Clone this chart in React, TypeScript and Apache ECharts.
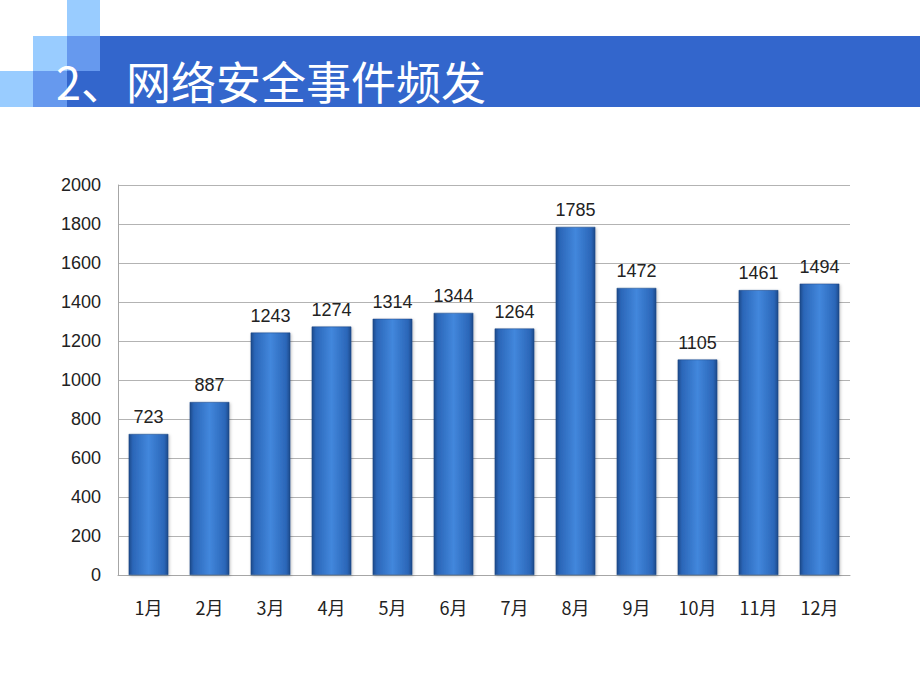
import React, { useEffect, useRef } from "react";
import * as echarts from "echarts";

const titleText = "2、网络安全事件频发";
const months = ["1月", "2月", "3月", "4月", "5月", "6月", "7月", "8月", "9月", "10月", "11月", "12月"];
const incidents = [723, 887, 1243, 1274, 1314, 1344, 1264, 1785, 1472, 1105, 1461, 1494];
const yTicks = { min: 0, max: 2000, interval: 200 };

export default function App() {
  const ref = useRef<HTMLDivElement>(null);
  useEffect(() => {
    if (!ref.current) return;
    const chart = echarts.init(ref.current, undefined, { renderer: "svg" });
    const barGrad = new echarts.graphic.LinearGradient(0, 0, 1, 0, [
      { offset: 0, color: "#1b4a8a" },
      { offset: 0.1, color: "#2b66b8" },
      { offset: 0.5, color: "#4287dc" },
      { offset: 0.9, color: "#2b66b8" },
      { offset: 1, color: "#1b4a8a" },
    ]);
    const numFont = "'Liberation Sans', 'Noto Sans CJK SC', sans-serif";
    chart.setOption({
      animation: false,
      backgroundColor: "#ffffff",
      graphic: [
        { type: "rect", shape: { x: 33, y: 36, width: 887, height: 71 }, style: { fill: "#3366cc" } },
        { type: "rect", shape: { x: 67, y: 0, width: 33, height: 36 }, style: { fill: "#99ccff" } },
        { type: "rect", shape: { x: 33, y: 36, width: 34, height: 35 }, style: { fill: "#99ccff" } },
        { type: "rect", shape: { x: 67, y: 36, width: 33, height: 35 }, style: { fill: "#6699ee" } },
        { type: "rect", shape: { x: 0, y: 71, width: 33, height: 36 }, style: { fill: "#99ccff" } },
        { type: "rect", shape: { x: 33, y: 71, width: 34, height: 36 }, style: { fill: "#6699ee" } },
        {
          type: "text",
          left: 56,
          top: 58,
          style: {
            text: titleText,
            fill: "#ffffff",
            font: "normal 45px 'Noto Sans CJK SC', sans-serif",
          },
        },
      ],
      grid: { left: 118, right: 70, top: 185, bottom: 115, containLabel: false },
      xAxis: {
        type: "category",
        data: months,
        axisLine: { show: true, lineStyle: { color: "#a6a6a6", width: 1 } },
        axisTick: { show: false },
        axisLabel: {
          margin: 23,
          fontSize: 18,
          color: "#222",
          fontFamily: "'Noto Sans CJK SC', sans-serif",
        },
      },
      yAxis: {
        type: "value",
        min: yTicks.min,
        max: yTicks.max,
        interval: yTicks.interval,
        axisLine: { show: true, lineStyle: { color: "#a6a6a6", width: 1 } },
        axisTick: { show: false },
        splitLine: { lineStyle: { color: "#b3b3b3", width: 1 } },
        axisLabel: {
          margin: 17,
          fontSize: 18,
          color: "#222",
          fontFamily: numFont,
          formatter: (v: number) => String(v),
        },
      },
      series: [
        {
          type: "bar",
          data: incidents,
          barWidth: "65%",
          itemStyle: {
            color: barGrad,
            borderColor: "#1a4580",
            borderWidth: 0.5,
            shadowColor: "rgba(0,0,0,0.25)",
            shadowBlur: 3,
            shadowOffsetX: 1,
            shadowOffsetY: 1,
          },
          label: {
            show: true,
            position: "top",
            distance: 8,
            fontSize: 18,
            color: "#222",
            fontFamily: numFont,
          },
        },
      ],
    });
    return () => chart.dispose();
  }, []);
  return (
    <div
      ref={ref}
      style={{ position: "fixed", left: 0, top: 0, width: 920, height: 690 }}
    />
  );
}
